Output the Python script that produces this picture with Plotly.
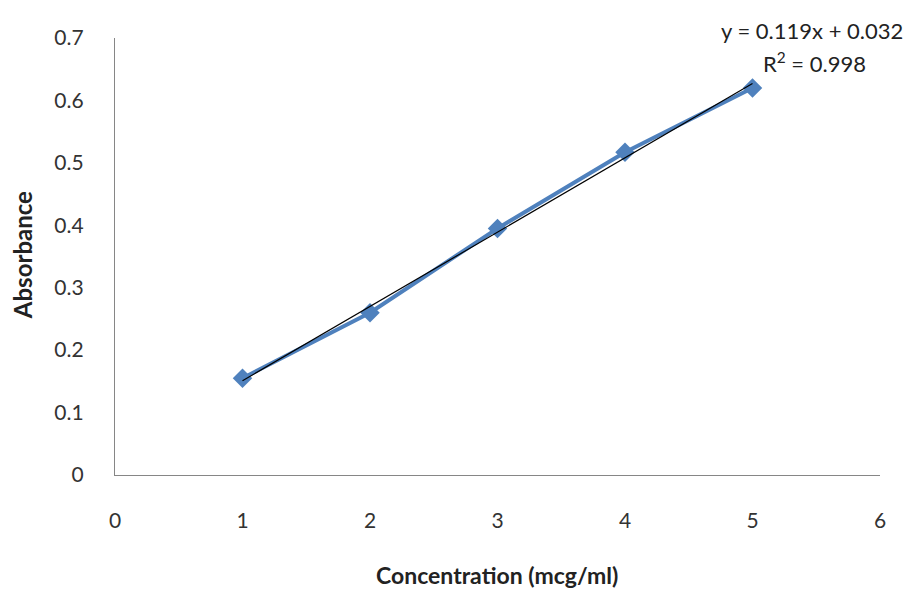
import plotly.graph_objects as go

concentration = [1, 2, 3, 4, 5]
absorbance = [0.155, 0.26, 0.395, 0.517, 0.62]
slope = 0.119
intercept = 0.032
r_squared = 0.998
x_ticks = [0, 1, 2, 3, 4, 5, 6]
y_ticks = [0, 0.1, 0.2, 0.3, 0.4, 0.5, 0.6, 0.7]

FONT = "Lato"
trend_x = [concentration[0], concentration[-1]]
trend_y = [slope * v + intercept for v in trend_x]

fig = go.Figure()
fig.add_trace(go.Scatter(
    x=concentration, y=absorbance, mode="lines+markers",
    line=dict(color="#4F81BD", width=4),
    marker=dict(symbol="diamond", size=15, color="#4F81BD"),
    showlegend=False,
))
fig.add_trace(go.Scatter(
    x=trend_x, y=trend_y, mode="lines",
    line=dict(color="black", width=1.2),
    showlegend=False,
))

# page has an 8px body margin: figure sized/margins set so the plot area lands at x 115-880, y 38-475
fig.update_layout(
    width=907, height=583,
    margin=dict(l=107, r=35, t=30, b=116),
    paper_bgcolor="white", plot_bgcolor="white",
    font=dict(family=FONT, color="#333333", size=20),
    xaxis=dict(
        range=[0, 6], tickvals=x_ticks, ticktext=[str(v) for v in x_ticks],
        showgrid=False, zeroline=False, showline=True, linecolor="#868686", linewidth=1.2,
        ticks="outside", ticklen=27, tickcolor="rgba(0,0,0,0)",
        tickfont=dict(family=FONT, size=21, color="#333333"),
    ),
    yaxis=dict(
        range=[0, 0.7], tickvals=y_ticks, ticktext=["0"] + [f"{v:.1f}" for v in y_ticks[1:]],
        showgrid=False, zeroline=False, showline=True, linecolor="#868686", linewidth=1.2,
        ticks="outside", ticklen=26, tickcolor="rgba(0,0,0,0)",
        tickfont=dict(family=FONT, size=21, color="#333333"),
    ),
    annotations=[
        dict(text="<b>Absorbance</b>", xref="paper", yref="paper", x=-0.1216, y=0.503,
             xanchor="center", yanchor="middle",
             textangle=-90, showarrow=False, font=dict(family=FONT, size=24, color="#222222")),
        dict(text="<b>Concentration (mcg/ml)</b>", xref="paper", yref="paper", x=0.499, y=-0.228,
             xanchor="center", yanchor="middle",
             showarrow=False, font=dict(family=FONT, size=23, color="#222222")),
        dict(text=f"y = {slope}x + {intercept}", xref="paper", yref="paper", x=0.911, y=1.018,
             xanchor="center", yanchor="middle",
             showarrow=False, font=dict(family=FONT, size=22, color="#222222")),
        dict(text=f"R<sup>2</sup> = {r_squared}", xref="paper", yref="paper", x=0.915, y=0.945,
             xanchor="center", yanchor="middle",
             showarrow=False, font=dict(family=FONT, size=22, color="#222222")),
    ],
)

fig.write_html("out.html")
